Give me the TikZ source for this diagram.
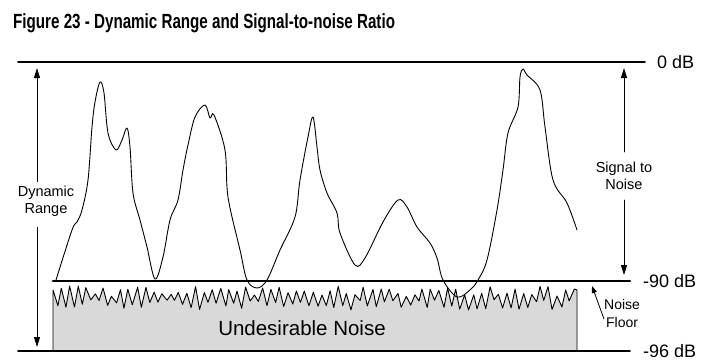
\documentclass[tikz,border=0pt]{standalone}
\usepackage{fontspec}
\setmainfont{Liberation Sans}
\newfontfamily\titlefont[FakeStretch=0.74]{Liberation Sans}
\usetikzlibrary{arrows.meta}
\begin{document}
\begin{tikzpicture}[x=1pt,y=-1pt,line cap=round,line join=round,
    tip/.style={-{Triangle[width=6pt,length=10pt]},line width=0.9pt},
    dblabel/.style={anchor=west,font=\fontsize{18}{20}\selectfont,inner sep=0pt},
    smalltext/.style={align=center,font=\fontsize{14.5}{17}\selectfont,inner sep=1pt}]
    \useasboundingbox (0,0) rectangle (713,364);

    % title
    \node[anchor=base west,inner sep=0pt,font=\titlefont\bfseries\fontsize{20.5}{23}\selectfont] (title) at (13,28)
      {Figure 23 - Dynamic Range and Signal-to-noise Ratio};

    % noise region below the floor
    \pgfmathsetseed{23}
    \draw[line width=0.9pt,fill=black!15]
      (53,351) -- (53,290)
      -- plot[domain=1:124,samples=124] ({53+\x*4.2+1.6*rnd-0.8},{298+(mod(\x,2)==0 ? -1 : 1)*(1.5+10.5*rnd)})
      -- (577,290) -- (577,351) -- cycle;
    \node[font=\fontsize{20.5}{24}\selectfont] (undes) at (302,328) {Undesirable Noise};

    % reference levels
    \draw[line width=1.6pt] (18,62) -- (645,62);
    \draw[line width=2.6pt] (53,281) -- (630,281);
    \draw[line width=1.6pt] (18,351) -- (630,351);
    \node[dblabel] (zero) at (657,62) {0 dB};
    \node[dblabel] (ninety) at (643,281) {-90 dB};
    \node[dblabel] (ninetysix) at (643,351) {-96 dB};

    % signal
    \draw[line width=0.9pt] plot[smooth,tension=0.55] coordinates {
      (56,280) (72,230) (77,222) (82,210) (88,180) (92,127) (95,102) (100,82)
      (104,93) (108,133) (116,150) (122,140) (127,128) (130,147) (133,193)
      (140,220) (147,247) (155,279) (163,257) (170,220) (178,200) (183,170)
      (188,145) (195,117) (205,105) (210,118) (214,115) (225,150) (228,197)
      (240,250) (247,280) (257,288) (267,280) (280,250) (295,217) (300,180)
      (308,137) (313,117) (317,147) (320,170) (327,193) (337,213) (340,233)
      (355,265) (365,258) (383,222) (398,200) (407,207) (417,227) (430,243)
      (437,258) (443,280) (457,297) (470,290) (478,280) (487,260) (497,210)
      (503,170) (508,133) (518,107) (520,77) (523,69) (527,75) (540,90)
      (545,127) (553,180) (567,203) (577,230)};

    % dynamic range
    \node[smalltext] (dynrange) at (46,201) {Dynamic\\Range};
    \coordinate (drtop) at (37,68);
    \coordinate (drbot) at (37,347);
    \draw[tip] ([yshift=3pt]dynrange.north -| drtop) -- (drtop);
    \draw[tip] ([yshift=-10pt]dynrange.south -| drbot) -- (drbot);

    % signal to noise
    \node[smalltext] (snr) at (624,176) {Signal to\\Noise};
    \coordinate (sntop) at (624,68);
    \coordinate (snbot) at (624,275);
    \draw[tip] ([yshift=9pt]snr.north) -- (sntop);
    \draw[tip] ([yshift=-9pt]snr.south) -- (snbot);

    % noise floor
    \node[smalltext,font=\fontsize{14}{18}\selectfont,anchor=west] (floor) at (603,313) {Noise\\Floor};
    \coordinate (floortip) at (592,286);
    \draw[-{Triangle[width=5pt,length=7pt]},line width=0.8pt] ([xshift=1pt,yshift=-6pt]floor.west) -- (floortip);
  \end{tikzpicture}
\end{document}
